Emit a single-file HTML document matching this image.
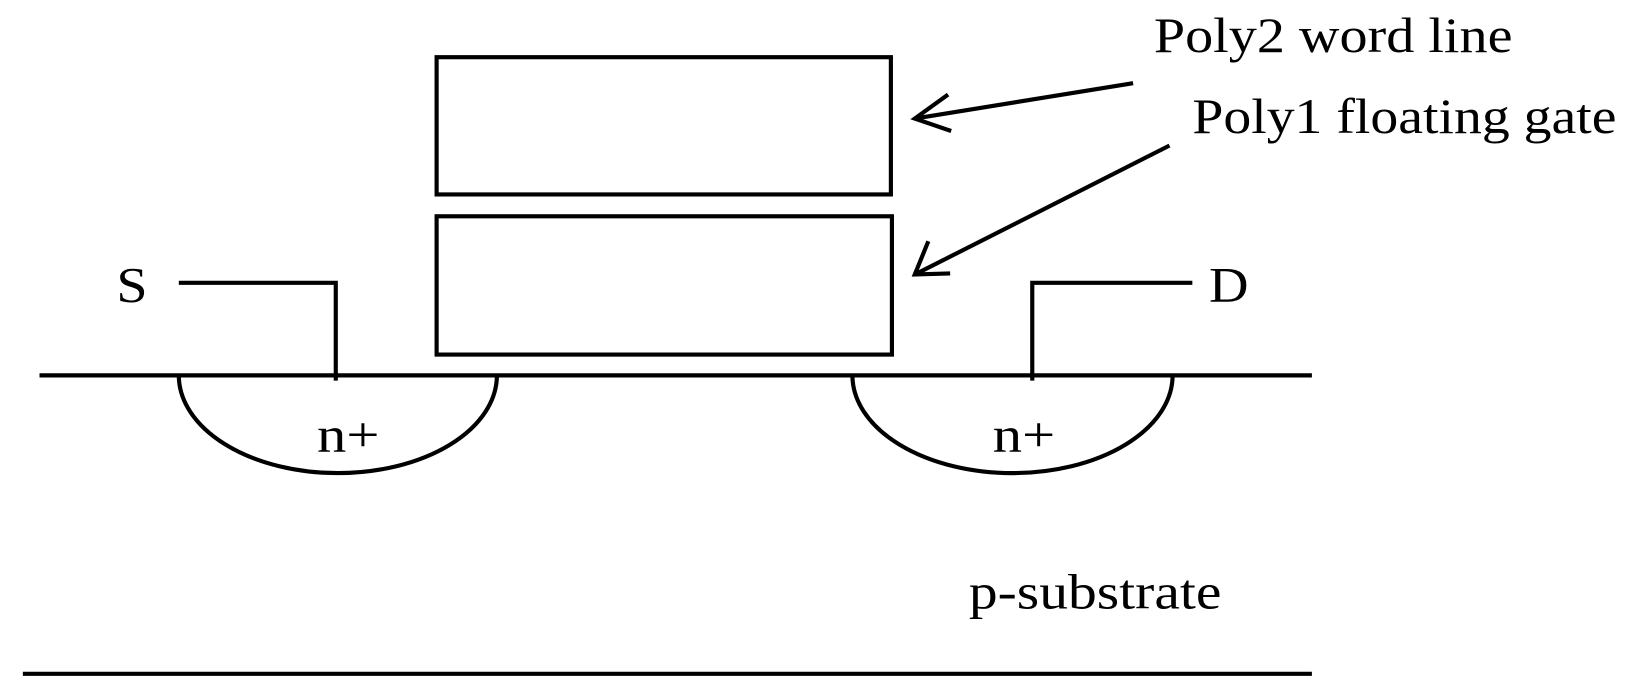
<!DOCTYPE html>
<html><head><style>html,body{margin:0;padding:0;background:#fff;overflow:hidden}svg{display:block}</style></head>
<body>
<svg width="1630" height="679" viewBox="0 0 1568 653" preserveAspectRatio="none" xmlns="http://www.w3.org/2000/svg">
<g fill="none" stroke="#000" stroke-width="4">
<rect x="420" y="55" width="437" height="132"/>
<rect x="420" y="208" width="438" height="133"/>
<line x1="38" y1="361" x2="1262" y2="361"/>
<line x1="22" y1="648" x2="1262" y2="648"/>
<polyline points="172,272 323,272 323,366"/>
<polyline points="993,366 993,272 1147,272"/>
<path d="M172,361 A153,94 0 0 0 478,361"/>
<path d="M820,361 A154,94 0 0 0 1128,361"/>
<line x1="1090" y1="80" x2="880" y2="114"/>
<line x1="1125" y1="140" x2="880" y2="264"/>
<polyline points="912,91 880,114 915,126"/>
<polyline points="893,232 880,264 914,263"/>
</g>
<g font-family="Liberation Serif, serif" font-size="48" fill="#000">
<text x="1110" y="50" textLength="345" lengthAdjust="spacingAndGlyphs">Poly2 word line</text>
<text x="1147" y="128" textLength="408" lengthAdjust="spacingAndGlyphs">Poly1 floating gate</text>
<text x="112" y="290" textLength="30" lengthAdjust="spacingAndGlyphs">S</text>
<text x="1163" y="290" textLength="38" lengthAdjust="spacingAndGlyphs">D</text>
<text x="305" y="434" textLength="60" lengthAdjust="spacingAndGlyphs">n+</text>
<text x="955" y="434" textLength="60" lengthAdjust="spacingAndGlyphs">n+</text>
<text x="932" y="585" textLength="243" lengthAdjust="spacingAndGlyphs">p-substrate</text>
</g>
</svg>
</body></html>
